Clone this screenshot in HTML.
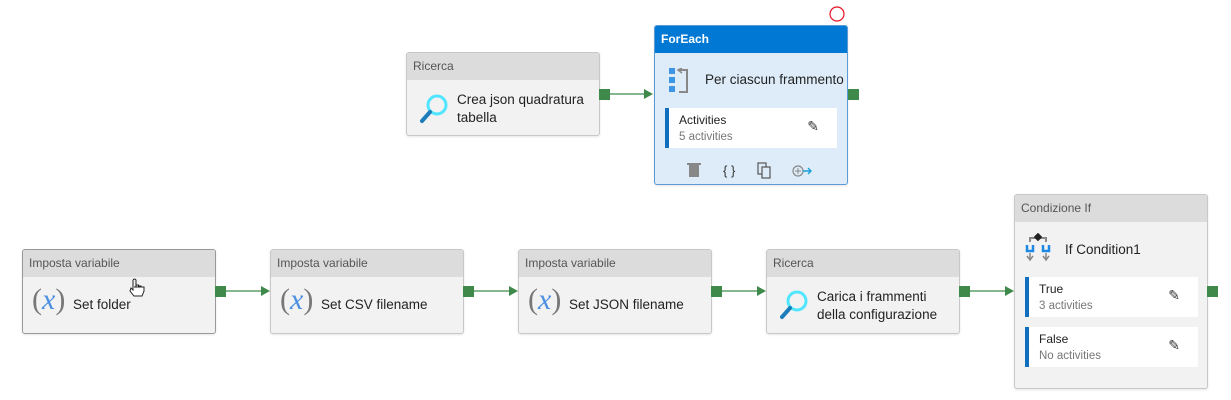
<!DOCTYPE html>
<html><head><meta charset="utf-8"><style>
body{margin:0;width:1231px;height:400px;background:#fff;position:relative;overflow:hidden;font-family:"Liberation Sans",sans-serif;}
.n{position:absolute;background:#f2f2f2;border:1px solid #c8c8c8;border-radius:3px;box-sizing:border-box;box-shadow:0 1px 2px rgba(0,0,0,.1);}
.h{height:27px;background:#dcdcdc;color:#555;font-size:12px;line-height:27px;padding-left:6px;border-radius:2px 2px 0 0;}
.t{position:absolute;font-size:13.5px;color:#222;line-height:18px;}
.x{position:absolute;font-family:"Liberation Serif",serif;font-size:30px;color:#777;}
.x i{color:#4a90e2;}
.sq{position:absolute;width:11px;height:11px;background:#3f8a4a;}
.sub{position:absolute;background:#fff;}
.bar{position:absolute;left:0;top:0;bottom:0;width:4px;background:#106ebe;}
.s1{position:absolute;left:14px;top:5px;font-size:12px;color:#222;}
.s2{position:absolute;left:14px;top:23px;font-size:11.5px;color:#777;}
</style></head><body>
<svg width="1231" height="400" style="position:absolute;left:0;top:0">
<g stroke="#3f8a4a" stroke-width="1.3" fill="#3f8a4a">
<line x1="610" y1="94" x2="645" y2="94"/><polygon points="644,89 653,94 644,99" stroke="none"/>
<line x1="226" y1="291" x2="262" y2="291"/><polygon points="261,286 270,291 261,296" stroke="none"/>
<line x1="474" y1="291" x2="510" y2="291"/><polygon points="509,286 518,291 509,296" stroke="none"/>
<line x1="722" y1="291" x2="758" y2="291"/><polygon points="757,286 766,291 757,296" stroke="none"/>
<line x1="970" y1="291" x2="1006" y2="291"/><polygon points="1005,286 1014,291 1005,296" stroke="none"/>
</g>
<circle cx="837" cy="14" r="7" fill="none" stroke="#e81123" stroke-width="1.2"/>
</svg>

<div class="n" style="left:406px;top:52px;width:194px;height:84px;"><div class="h">Ricerca</div>
<svg style="position:absolute;left:12px;top:40px" width="30" height="32"><circle cx="18" cy="12" r="9" fill="none" stroke="#50e6ff" stroke-width="3"/><line x1="11" y1="19" x2="3" y2="28" stroke="#1b7dba" stroke-width="4" stroke-linecap="round"/></svg>
<div class="t" style="left:50px;top:38px;">Crea json quadratura<br>tabella</div></div>
<div class="sq" style="left:599px;top:89px;"></div>

<div class="n" style="left:654px;top:25px;width:194px;height:160px;background:#deecf9;border-color:#5a9bd5;">
<div class="h" style="background:#0078d4;color:#fff;font-weight:bold;">ForEach</div>
<svg style="position:absolute;left:14px;top:42px" width="22" height="28"><rect x="0" y="0" width="6" height="6" fill="#3c96e4"/><rect x="0" y="9" width="6" height="6" fill="#3c96e4"/><rect x="0" y="18" width="6" height="6" fill="#3c96e4"/><path d="M10 2 H18 V24 H10" fill="none" stroke="#888" stroke-width="2"/><path d="M13 0 L9 2 L13 5" fill="none" stroke="#888" stroke-width="1.5"/></svg>
<div class="t" style="left:50px;top:45px;white-space:nowrap;">Per ciascun frammento</div>
<div class="sub" style="left:10px;top:82px;width:172px;height:40px;"><div class="bar"></div><div class="s1">Activities</div><div class="s2">5 activities</div><div style="position:absolute;right:18px;top:10px;font-size:14px;color:#333;">✎</div></div>
<svg style="position:absolute;left:30px;top:135px" width="130" height="20"><rect x="4" y="3" width="10" height="13" fill="#888"/><rect x="2" y="2" width="14" height="2" fill="#888"/>
<text x="38" y="14" font-size="13" fill="#333" font-family="Liberation Sans">{ }</text>
<rect x="73" y="2" width="8" height="11" fill="none" stroke="#555" stroke-width="1.2"/><rect x="77" y="6" width="8" height="11" fill="#deecf9" stroke="#555" stroke-width="1.2"/>
<circle cx="113" cy="10" r="5" fill="none" stroke="#888" stroke-width="1.2"/><line x1="110" y1="10" x2="116" y2="10" stroke="#888"/><line x1="113" y1="7" x2="113" y2="13" stroke="#888"/><path d="M118 10 H126 M123 7 L126 10 L123 13" fill="none" stroke="#1aa0d8" stroke-width="1.4"/></svg>
</div>
<div class="sq" style="left:848px;top:89px;"></div>

<div class="n" style="left:22px;top:249px;width:194px;height:85px;border-color:#999;"><div class="h">Imposta variabile</div>
<div class="x" style="left:9px;top:33px;">(<i>x</i>)</div><div class="t" style="left:50px;top:46px;">Set folder</div>
<svg style="position:absolute;left:106px;top:28px" width="16" height="20"><path d="M4 2 V12 L2 10 L1 13 L5 18 H13 L15 13 V9 H5" fill="#fff" stroke="#222" stroke-width="1"/><path d="M4 2 Q5.5 0 7 2 V9 M7 7 H9.5 V9 M9.5 8 H12 V9 M12 9 H14" fill="none" stroke="#222" stroke-width="1"/></svg></div>
<div class="sq" style="left:215px;top:286px;"></div>

<div class="n" style="left:270px;top:249px;width:194px;height:85px;"><div class="h">Imposta variabile</div>
<div class="x" style="left:9px;top:33px;">(<i>x</i>)</div><div class="t" style="left:50px;top:46px;">Set CSV filename</div></div>
<div class="sq" style="left:463px;top:286px;"></div>

<div class="n" style="left:518px;top:249px;width:194px;height:85px;"><div class="h">Imposta variabile</div>
<div class="x" style="left:9px;top:33px;">(<i>x</i>)</div><div class="t" style="left:50px;top:46px;">Set JSON filename</div></div>
<div class="sq" style="left:711px;top:286px;"></div>

<div class="n" style="left:766px;top:249px;width:194px;height:85px;"><div class="h">Ricerca</div>
<svg style="position:absolute;left:12px;top:39px" width="30" height="32"><circle cx="18" cy="12" r="9" fill="none" stroke="#50e6ff" stroke-width="3"/><line x1="11" y1="19" x2="3" y2="28" stroke="#1b7dba" stroke-width="4" stroke-linecap="round"/></svg>
<div class="t" style="left:50px;top:38px;">Carica i frammenti<br>della configurazione</div></div>
<div class="sq" style="left:959px;top:286px;"></div>

<div class="n" style="left:1014px;top:194px;width:194px;height:195px;"><div class="h">Condizione If</div>
<svg style="position:absolute;left:10px;top:38px" width="30" height="30"><path d="M5 9 V5 H21 V9" fill="none" stroke="#888" stroke-width="2"/><rect x="10" y="1" width="6" height="6" transform="rotate(45 13 4)" fill="#222"/><path d="M2 12 V18 H8 V12 M18 12 V18 H24 V12" fill="none" stroke="#1e88e5" stroke-width="2.5"/><path d="M5 20 V26 M21 20 V26 M2 23 L5 27 L8 23 M18 23 L21 27 L24 23" fill="none" stroke="#888" stroke-width="1.5"/></svg>
<div class="t" style="left:50px;top:46px;">If Condition1</div>
<div class="sub" style="left:10px;top:82px;width:173px;height:40px;"><div class="bar"></div><div class="s1">True</div><div class="s2">3 activities</div><div style="position:absolute;right:18px;top:10px;font-size:14px;color:#333;">✎</div></div>
<div class="sub" style="left:10px;top:132px;width:173px;height:40px;"><div class="bar"></div><div class="s1">False</div><div class="s2">No activities</div><div style="position:absolute;right:18px;top:10px;font-size:14px;color:#333;">✎</div></div>
</div>
<div class="sq" style="left:1207px;top:286px;"></div>
</body></html>
